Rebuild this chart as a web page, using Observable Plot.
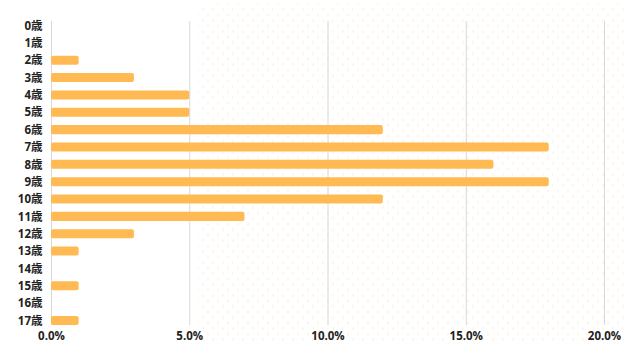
<!DOCTYPE html>
<html>
<head>
<meta charset="utf-8">
<script src="https://cdn.jsdelivr.net/npm/d3@7"></script>
<script src="https://cdn.jsdelivr.net/npm/@observablehq/plot@0.6"></script>
<style>
  html, body { margin: 0; padding: 0; background: #fff; }
  #wrap { position: relative; width: 640px; height: 360px; overflow: hidden; }
  #dots {
    position: absolute; left: 198px; top: 4px; width: 428px; height: 340px;
    background-image:
      radial-gradient(circle, rgba(255,186,83,0.12) 1.1px, transparent 1.5px),
      radial-gradient(circle, rgba(255,186,83,0.12) 1.1px, transparent 1.5px);
    background-size: 10px 11px, 10px 11px;
    background-position: 0 0, 5px 5.5px;
  }
  #chart { position: absolute; left: 0; top: 0; }
</style>
</head>
<body>
<div id="wrap"><div id="dots"></div><div id="chart"></div></div>
<script>
const ages = ["0歳","1歳","2歳","3歳","4歳","5歳","6歳","7歳","8歳","9歳","10歳","11歳","12歳","13歳","14歳","15歳","16歳","17歳"];
const shares = [0,0,1,3,5,5,12,18,16,18,12,7,3,1,0,1,0,1];
const xTicks = [0,5,10,15,20];

const data = ages.map((a, i) => ({age: a, value: shares[i]}));

const chart = Plot.plot({
  width: 640,
  height: 360,
  marginLeft: 51,
  marginRight: 36,
  marginTop: 21,
  marginBottom: 35,
  style: {background: "transparent", fontFamily: "'Open Sans', 'Noto Sans CJK JP', sans-serif", fontSize: "11.5px", fontWeight: "bold", color: "#222"},
  x: {domain: [0, 20], ticks: xTicks, tickFormat: d => d.toFixed(1) + "%", label: null, tickSize: 0, tickPadding: 6},
  y: {domain: ages, label: null, tickSize: 0, tickPadding: 9, paddingInner: 0.48, paddingOuter: 0, round: false},
  marks: [
    Plot.gridX(xTicks, {stroke: "#d8d8d8", strokeOpacity: 1, strokeWidth: 1}),
    Plot.barX(data.filter(d => d.value > 0), {x: "value", y: "age", fill: "#FFBA53", rx: 2}),
    Plot.axisX({ticks: xTicks, tickFormat: d => d.toFixed(1) + "%", tickSize: 0, tickPadding: 6, label: null, fill: "#222"}),
    Plot.axisY({tickSize: 0, tickPadding: 9, label: null, fill: "#222"})
  ]
});
document.getElementById("chart").appendChild(chart);
</script>
</body>
</html>
